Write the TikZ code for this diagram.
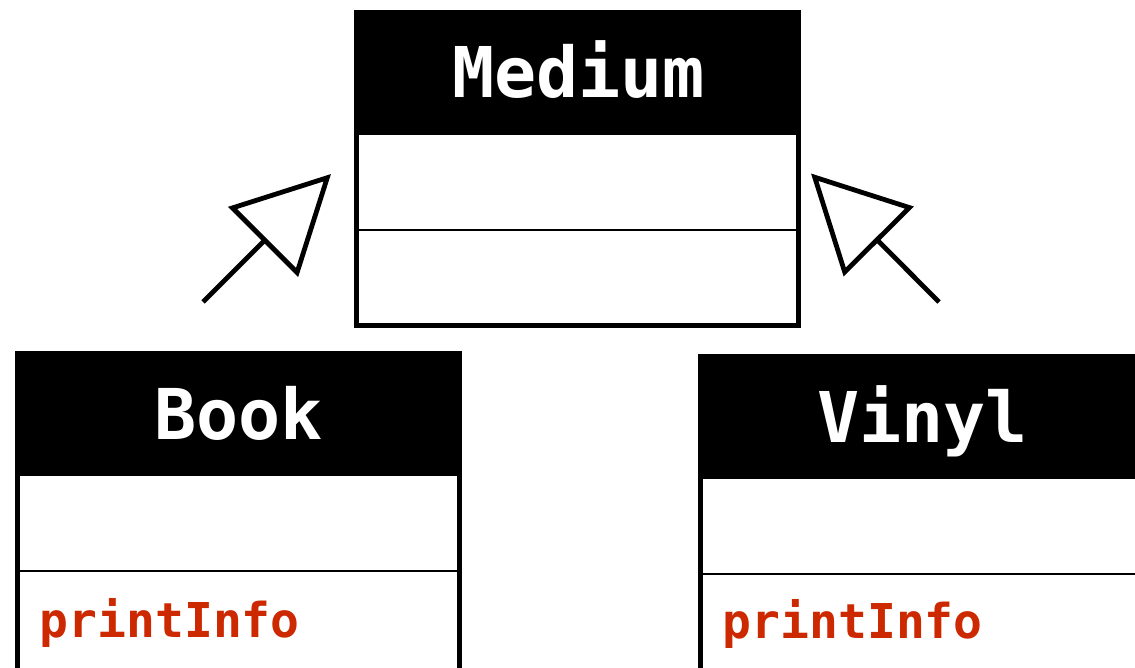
\documentclass[tikz,border=0pt]{standalone}
\usepackage{fontspec}
\setmonofont{DejaVu Sans Mono}
\usetikzlibrary{arrows.meta}
\definecolor{methodred}{RGB}{204,41,0}
\tikzset{
  classframe/.style={draw=black, line width=5pt, inner sep=0pt, outer sep=0pt, anchor=north west},
  headfill/.style={fill=black},
  divider/.style={draw=black, line width=2.5pt},
  classtitle/.style={text=white, font=\fontsize{70}{70}\selectfont\ttfamily\bfseries, anchor=base, inner sep=0pt},
  method/.style={text=methodred, font=\fontsize{48}{48}\selectfont\ttfamily\bfseries, anchor=base west, inner sep=0pt},
  inherit/.style={draw=black, line width=4.8pt, -{Triangle[open, length=96pt, width=98pt]}}
}
\begin{document}
\begin{tikzpicture}[x=1pt,y=-1pt]
\useasboundingbox (0,0) rectangle (1135,668);
\fill[white] (0,0) rectangle (1135,668);

% Medium
\fill[headfill] (354,10) rectangle (801,135);
\node[classframe, minimum width=442pt, minimum height=313pt] (medium) at (356.5,12.5) {};
\draw[divider] (356.5,230) -- (798.5,230);
\node[classtitle] (mediumtitle) at (578.5,98) {Medium};

% Book
\fill[headfill] (15,351) rectangle (462,476);
\node[classframe, minimum width=442pt, minimum height=340pt] (book) at (17.5,353.5) {};
\draw[divider] (17.5,571) -- (459.5,571);
\node[classtitle] (booktitle) at (238.5,439) {Book};
\node[method] (bookmethod) at (39.5,637) {printInfo};

% Vinyl
\fill[headfill] (698,354) rectangle (1146,479);
\node[classframe, minimum width=443pt, minimum height=340pt] (vinyl) at (700.5,356.5) {};
\draw[divider] (700.5,574) -- (1143.5,574);
\node[classtitle] (vinyltitle) at (922.5,442) {Vinyl};
\node[method] (vinylmethod) at (722.5,638) {printInfo};

% Generalization arrows
\coordinate (bookfrom) at (203,302);
\coordinate (bookto) at (331,174);
\coordinate (vinylfrom) at (939,302);
\coordinate (vinylto) at (811,173.5);
\draw[inherit] (bookfrom) -- (bookto);
\draw[inherit] (vinylfrom) -- (vinylto);
\end{tikzpicture}
\end{document}
